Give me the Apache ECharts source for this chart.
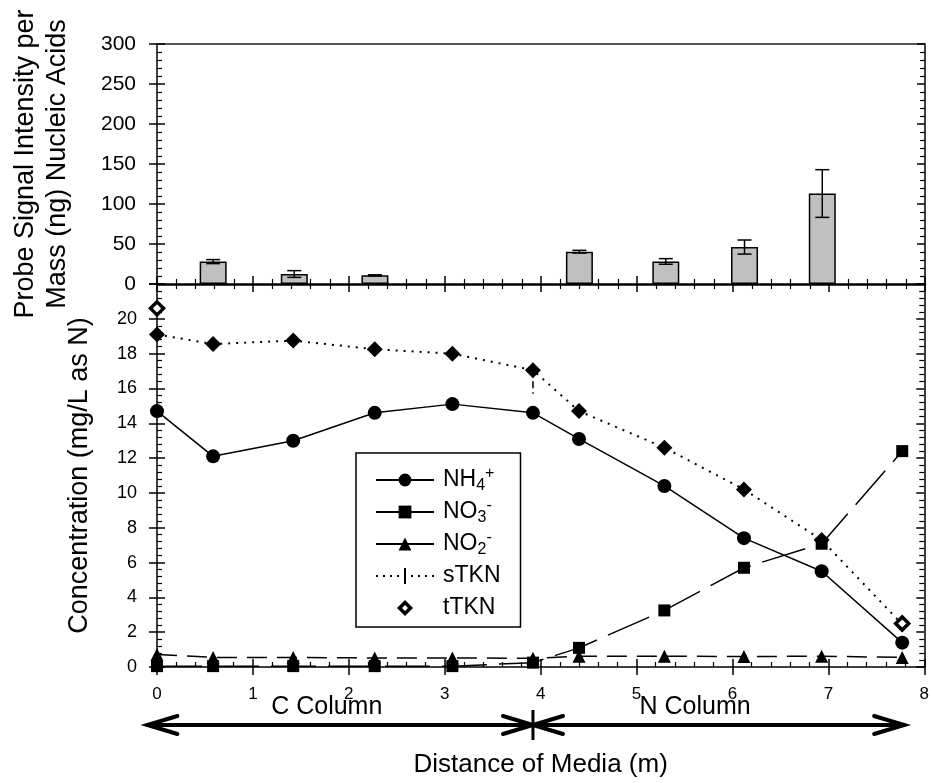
<!DOCTYPE html>
<html>
<head>
<meta charset="utf-8">
<script src="https://cdn.jsdelivr.net/npm/echarts@6/dist/echarts.min.js"></script>
<style>
html, body { margin: 0; padding: 0; background: #fff; }
#chart { width: 932px; height: 783px; }
</style>
</head>
<body>
<div id="chart"></div>
<script>
// sampling points along the media (m)
var distance = [0, 0.585, 1.42, 2.27, 3.08, 3.92, 4.40, 5.29, 6.12, 6.93, 7.77];
var nh4 = [14.7, 12.1, 13.0, 14.6, 15.1, 14.6, 13.1, 10.4, 7.4, 5.5, 1.4];
var no3 = [0.05, 0.05, 0.05, 0.05, 0.05, 0.25, 1.1, 3.25, 5.7, 7.08, 12.4];
var no2 = [0.72, 0.55, 0.55, 0.52, 0.52, 0.5, 0.62, 0.62, 0.6, 0.62, 0.55];
var sTkn = [19.1, 18.55, 18.75, 18.25, 18.0, 17.05, 14.7, 12.6, 10.2, 7.3, 2.45];
var tTknX = [0, 7.77];
var tTkn = [20.6, 2.5];
// sTKN error (only the lower arm is visible)
var sTknErrX = [3.92];
var sTknErrLow = [15.7];
var sTknErrHigh = [17.05];

// probe signal bars (top panel)
var probeX = [0.585, 1.43, 2.27, 4.40, 5.30, 6.12, 6.93];
var probe = [28, 12.5, 10.8, 40.4, 28.2, 46.2, 113.1];
var probeErr = [2.5, 4.2, 0.7, 1.7, 3.5, 8.8, 29.8];

// column annotation under the x axis
var columnNames = ['C Column', 'N Column'];
var columnLabelX = [1.77, 5.61];
var arrowX = [-0.1, 3.92, 7.79];

var font = 'Liberation Sans, Arial, sans-serif';
var chart = echarts.init(document.getElementById('chart'));

function pairs(xs, ys) {
    return xs.map(function (x, i) { return [x, ys[i]]; });
}

function errorBar(capW, dashed) {
    return function (params, api) {
        var x = api.value(0);
        var top = api.coord([x, api.value(2)]);
        var bot = api.coord([x, api.value(1)]);
        var st = { stroke: '#000', lineWidth: 1.5, lineDash: dashed ? [7, 4] : null };
        var children = [{ type: 'line', shape: { x1: top[0], y1: top[1], x2: bot[0], y2: bot[1] }, style: st }];
        if (capW) {
            children.push({ type: 'line', shape: { x1: top[0] - capW / 2, y1: top[1], x2: top[0] + capW / 2, y2: top[1] }, style: st });
            children.push({ type: 'line', shape: { x1: bot[0] - capW / 2, y1: bot[1], x2: bot[0] + capW / 2, y2: bot[1] }, style: st });
        }
        return { type: 'group', children: children };
    };
}

// one axis draws the outward ticks, a twin draws the inward ones
function xAxisPair(grid, showLabel) {
    var base = {
        gridIndex: grid, type: 'value', min: 0, max: 8, interval: 1, position: 'bottom',
        splitLine: { show: false }
    };
    return [
        Object.assign({}, base, {
            axisLine: { show: true, onZero: false, lineStyle: { color: '#000', width: grid === 0 ? 2.5 : 1.5 } },
            axisTick: { show: true, inside: false, length: 8, lineStyle: { color: '#000', width: 1.5 } },
            minorTick: { show: grid === 0, splitNumber: 5, length: 5, lineStyle: { color: '#000', width: 1.2 } },
            axisLabel: { show: showLabel, fontSize: 17, margin: 19, color: '#000', fontFamily: font }
        }),
        Object.assign({}, base, {
            axisLine: { show: false, onZero: false },
            axisTick: { show: true, inside: true, length: 8, lineStyle: { color: '#000', width: 1.5 } },
            minorTick: { show: true, splitNumber: 5, length: 5, lineStyle: { color: '#000', width: 1.2 } },
            axisLabel: { show: false }
        })
    ];
}

function yAxisSet(grid, max, interval, labelOpt, nameOpt) {
    var base = { gridIndex: grid, type: 'value', min: 0, max: max, interval: interval, splitLine: { show: false } };
    return [
        Object.assign({}, base, {
            position: 'left',
            axisLine: { show: true, onZero: false, lineStyle: { color: '#000', width: 1.5 } },
            axisTick: { show: true, inside: false, length: 8, lineStyle: { color: '#000', width: 1.5 } },
            axisLabel: labelOpt
        }, nameOpt),
        Object.assign({}, base, {
            position: 'left',
            axisLine: { show: false, onZero: false },
            axisTick: { show: true, inside: true, length: 8, lineStyle: { color: '#000', width: 1.5 } },
            minorTick: { show: true, splitNumber: 5, length: 5, lineStyle: { color: '#000', width: 1.2 } },
            axisLabel: { show: false }
        }),
        Object.assign({}, base, {
            position: 'right',
            axisLine: { show: true, onZero: false, lineStyle: { color: '#000', width: 1.5 } },
            axisTick: { show: true, inside: true, length: 8, lineStyle: { color: '#000', width: 1.5 } },
            minorTick: { show: true, splitNumber: 5, length: 5, lineStyle: { color: '#000', width: 1.2 } },
            axisLabel: { show: false }
        })
    ];
}

var legendNames = {
    'NH4+': 'NH{sub|4}{sup|+}',
    'NO3-': 'NO{sub|3}{sup|-}',
    'NO2-': 'NO{sub|2}{sup|-}',
    'sTKN': 'sTKN',
    'tTKN': 'tTKN'
};

// legend glyph for sTKN: dotted line crossed by an error-bar stroke
var dots = '';
for (var d = 0; d < 58; d += 7) {
    dots += 'M' + d + ',7h2v2h-2z';
}
var sTknIcon = 'path://' + dots + 'M28,0h2v16h-2z';
// legend glyph for tTKN: thick diamond ring with a small hole
var tTknIcon = 'path://M8,0L16,8L8,16L0,8ZM8,5L5,8L8,11L11,8Z';

var xAxes = xAxisPair(0, false).concat([{
    gridIndex: 0, type: 'value', min: 0, max: 8, position: 'top',
    axisLine: { show: true, onZero: false, lineStyle: { color: '#555', width: 2 } },
    axisTick: { show: false }, axisLabel: { show: false }, splitLine: { show: false }
}]).concat(xAxisPair(1, true));
xAxes[3].name = 'Distance of Media (m)';
xAxes[3].nameLocation = 'middle';
xAxes[3].nameGap = 85;
xAxes[3].nameTextStyle = { fontSize: 26, color: '#000', fontFamily: font };

var yAxes = yAxisSet(0, 300, 50,
    { fontSize: 21, margin: 21, color: '#000', fontFamily: font },
    {
        name: 'Probe Signal Intensity per\nMass (ng) Nucleic Acids',
        nameLocation: 'middle', nameGap: 83,
        nameTextStyle: { fontSize: 27, lineHeight: 32, color: '#000', fontFamily: font }
    }
).concat(yAxisSet(1, 22, 2,
    {
        fontSize: 18, margin: 20, color: '#000', fontFamily: font,
        formatter: function (v) { return v > 20 ? '' : v; }
    },
    {
        name: 'Concentration (mg/L as N)',
        nameLocation: 'middle', nameGap: 64,
        nameTextStyle: { fontSize: 27, color: '#000', fontFamily: font }
    }
));

var option = {
    animation: false,
    backgroundColor: '#fff',
    textStyle: { fontFamily: font },
    grid: [
        { left: 157, right: 7, top: 44, height: 240 },
        { left: 157, right: 7, top: 284, height: 383 }
    ],
    xAxis: xAxes,
    yAxis: yAxes,
    legend: {
        left: 356, top: 453, orient: 'vertical', selectedMode: false,
        padding: [12, 20, 4, 19], itemGap: 2, itemWidth: 58, itemHeight: 16,
        backgroundColor: '#fff', borderColor: '#000', borderWidth: 1.5, borderRadius: 0,
        data: [
            { name: 'NH4+' },
            { name: 'NO3-', lineStyle: { type: 'solid' } },
            { name: 'NO2-', lineStyle: { type: 'solid' } },
            { name: 'sTKN', icon: sTknIcon },
            { name: 'tTKN', icon: tTknIcon, itemStyle: { color: '#000', borderWidth: 0 } }
        ],
        formatter: function (name) { return legendNames[name]; },
        textStyle: {
            fontSize: 23, lineHeight: 30, color: '#000', fontFamily: font, padding: [0, 0, 0, 4],
            rich: {
                sub: { fontSize: 16, fontFamily: font, color: '#000', padding: [12, 0, 0, 0] },
                sup: { fontSize: 16, fontFamily: font, color: '#000', padding: [0, 0, 12, 0] }
            }
        }
    },
    series: [
        {
            name: 'probe', type: 'bar', xAxisIndex: 0, yAxisIndex: 0,
            data: pairs(probeX, probe), barWidth: 27,
            itemStyle: { color: '#c0c0c0', borderColor: '#000', borderWidth: 1.5 }
        },
        {
            name: 'probeErr', type: 'custom', xAxisIndex: 0, yAxisIndex: 0,
            data: probeX.map(function (x, i) { return [x, probe[i] - probeErr[i], probe[i] + probeErr[i]]; }),
            encode: { x: 0, y: [1, 2] },
            renderItem: errorBar(14, false), z: 3
        },
        {
            name: 'NO3-', type: 'line', xAxisIndex: 3, yAxisIndex: 3,
            data: pairs(distance, no3), symbol: 'rect', symbolSize: 12,
            itemStyle: { color: '#000' }, lineStyle: { color: '#000', width: 1.5, type: [45, 12] }
        },
        {
            name: 'NO2-', type: 'line', xAxisIndex: 3, yAxisIndex: 3,
            data: pairs(distance, no2), symbol: 'triangle', symbolSize: 13,
            itemStyle: { color: '#000' }, lineStyle: { color: '#000', width: 1.5, type: [20, 10] }
        },
        {
            name: 'NH4+', type: 'line', xAxisIndex: 3, yAxisIndex: 3,
            data: pairs(distance, nh4), symbol: 'circle', symbolSize: 14,
            itemStyle: { color: '#000' }, lineStyle: { color: '#000', width: 1.5 }
        },
        {
            name: 'sTKN', type: 'line', xAxisIndex: 3, yAxisIndex: 3,
            data: pairs(distance, sTkn), symbol: 'diamond', symbolSize: 16,
            itemStyle: { color: '#000' }, lineStyle: { color: '#000', width: 2, type: [2, 6] }
        },
        {
            name: 'sTknErr', type: 'custom', xAxisIndex: 3, yAxisIndex: 3,
            data: sTknErrX.map(function (x, i) { return [x, sTknErrLow[i], sTknErrHigh[i]]; }),
            encode: { x: 0, y: [1, 2] },
            renderItem: errorBar(0, true), z: 1
        },
        {
            name: 'tTKN', type: 'scatter', xAxisIndex: 3, yAxisIndex: 3,
            data: pairs(tTknX, tTkn), symbol: 'diamond', symbolSize: 13,
            itemStyle: { color: '#fff', borderColor: '#000', borderWidth: 3.5, opacity: 1 }, z: 5
        }
    ]
};

chart.setOption(option);

// arrows and column names, placed through the lower x axis
var px = function (v) { return chart.convertToPixel({ xAxisIndex: 3 }, v); };
var arrowY = 725, head = 30, half = 9;
var l = px(arrowX[0]), m = px(arrowX[1]), r = px(arrowX[2]);
var stroke = { stroke: '#000', lineWidth: 4, fill: null, lineCap: 'round', lineJoin: 'miter' };
function chevron(tip, dir) {
    return {
        type: 'polyline',
        shape: { points: [[tip - dir * head, arrowY - half], [tip, arrowY], [tip - dir * head, arrowY + half]] },
        style: stroke
    };
}
chart.setOption({
    graphic: [
        { type: 'line', shape: { x1: l, y1: arrowY, x2: r, y2: arrowY }, style: stroke },
        chevron(l, -1), chevron(m, 1), chevron(m, -1), chevron(r, 1),
        { type: 'line', shape: { x1: m, y1: arrowY - 15, x2: m, y2: arrowY + 15 }, style: { stroke: '#000', lineWidth: 3 } },
        {
            type: 'text', x: px(columnLabelX[0]), y: 707,
            style: { text: columnNames[0], fontSize: 25, fontFamily: font, fill: '#000', align: 'center', verticalAlign: 'middle' }
        },
        {
            type: 'text', x: px(columnLabelX[1]), y: 707,
            style: { text: columnNames[1], fontSize: 25, fontFamily: font, fill: '#000', align: 'center', verticalAlign: 'middle' }
        }
    ]
});
</script>
</body>
</html>
